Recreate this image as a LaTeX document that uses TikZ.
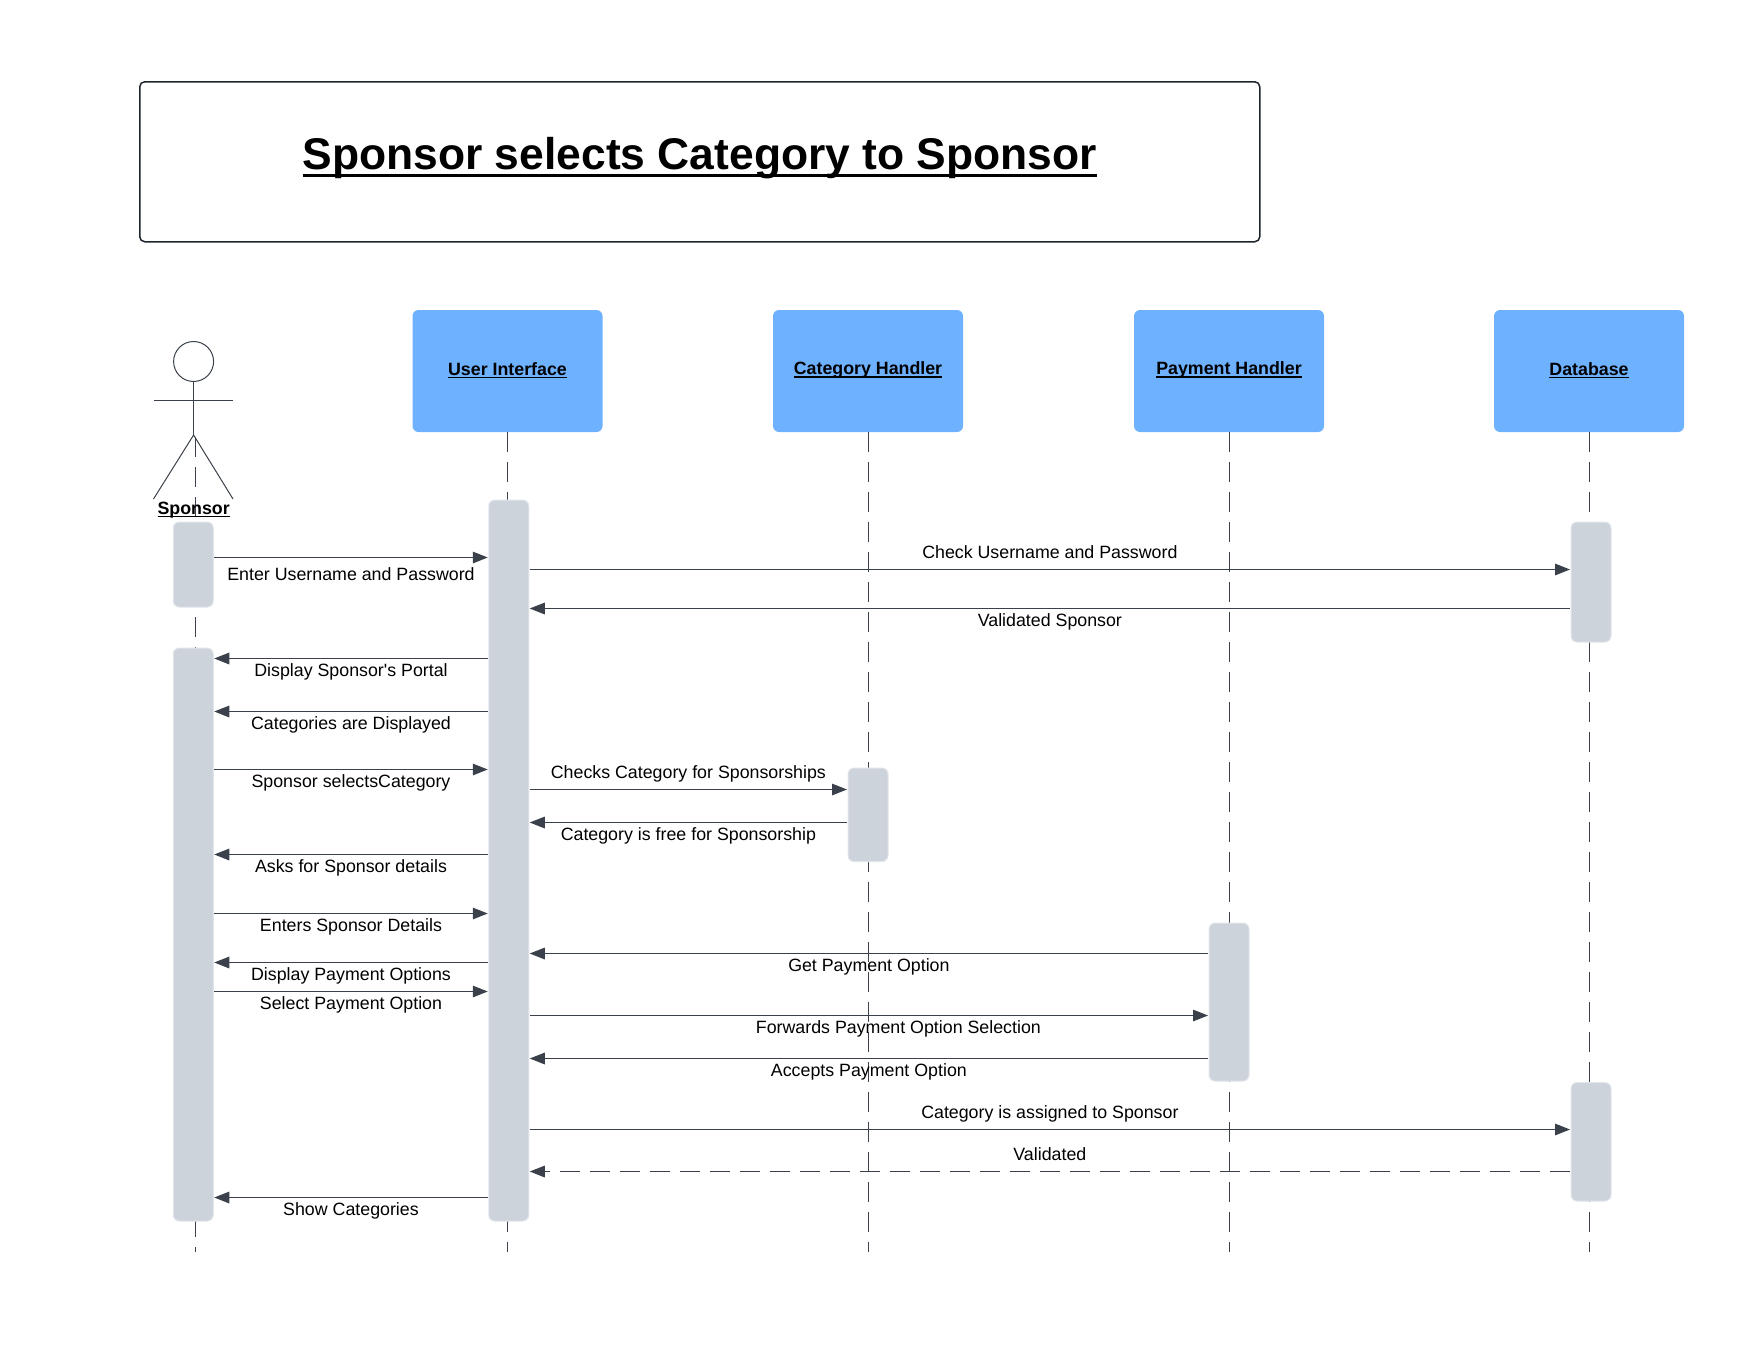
\documentclass[tikz,border=0pt]{standalone}
\usepackage{fontspec}
\setmainfont{Liberation Sans}
\usetikzlibrary{arrows.meta}
\definecolor{headblue}{RGB}{ 109, 177, 255 }
\definecolor{bargray}{RGB}{ 205, 211, 219 }
\definecolor{baredge}{RGB}{ 226, 230, 235 }
\definecolor{inkgray}{RGB}{ 58, 65, 74 }
\definecolor{frameink}{RGB}{ 30, 36, 46 }
\newcommand{\ultext}[1]{\setbox0=\hbox{#1}\rlap{\vrule width\wd0 height -0.09em depth 0.17em}\box0}

\begin{document}
\begin{tikzpicture}[x=0.5pt,y=-0.5pt,font=\fontsize{8.9}{10}\selectfont]
\tikzstyle{head box}=[fill=headblue,rounded corners=3pt,minimum width=95pt,minimum height=61pt,inner sep=0]
\tikzstyle{head text}=[yshift=.4pt,font=\fontsize{8.9}{10}\selectfont\bfseries]
\tikzstyle{act bar}=[fill=bargray,draw=baredge,line width=.5pt,rounded corners=3pt,minimum width=20pt,inner sep=0,outer sep=.5pt]
\tikzstyle{life line}=[draw=inkgray,line width=.5pt,dash pattern=on 10pt off 5pt]
\tikzstyle{msg}=[draw=inkgray,line width=.55pt,-{Triangle[length=7.5pt,width=5.8pt]}]
\tikzstyle{msg dash}=[msg,dash pattern=on 10pt off 5pt]
\tikzstyle{under}=[midway,inner sep=0,text height=.72em,text depth=.2em,yshift=-6.5pt]
\tikzstyle{over}=[midway,inner sep=0,text height=.72em,text depth=.2em,yshift=8.2pt]
\tikzstyle{stick}=[draw=inkgray,line width=.5pt]

\useasboundingbox (0,0) rectangle (1750,1344);

% title
\node(title)[draw=frameink,line width=.75pt,rounded corners=2.5pt,minimum width=560pt,minimum height=80pt,inner sep=0,
    label={[yshift=1.8pt,font=\fontsize{22.2}{26}\selectfont\bfseries]center:\ultext{Sponsor selects Category to Sponsor}}] at (699.75,161.75) {};

% objects
\node(ui)[head box,label={[head text]center:\ultext{User Interface}}] at (507.5,371) {};
\node(cat)[head box,label={[head text]center:\ultext{Category Handler}}] at (868,371) {};
\node(pay)[head box,label={[head text]center:\ultext{Payment Handler}}] at (1229,371) {};
\node(db)[head box,label={[head text]center:\ultext{Database}}] at (1589,371) {};

% life lines
\coordinate (sEnd) at (195.5,1252);
\coordinate (sTop) at (195.5,437);
\draw[life line] (sTop) -- (sEnd);
\draw[life line] (ui.south) -- (ui.south |- sEnd);
\draw[life line] ([xshift=.3pt]cat.south) -- ([xshift=.3pt]cat.south |- sEnd);
\draw[life line] ([xshift=.3pt]pay.south) -- ([xshift=.3pt]pay.south |- sEnd);
\draw[life line] ([xshift=.3pt]db.south) -- ([xshift=.3pt]db.south |- sEnd);

% actor
\node(actHead)[circle,stick,minimum size=20pt,inner sep=0] at (193.6,361.5) {};
\coordinate (hip) at (193.6,435);
\coordinate (armL) at (153.5,400.5);
\coordinate (armR) at (233,400.5);
\coordinate (legL) at (153.5,499);
\coordinate (legR) at (233,499);
\draw[stick] (actHead.south) -- (hip);
\draw[stick] (armL) -- (armR);
\draw[stick] (legL) -- (hip) -- (legR);
\node(actName)[inner sep=0,font=\fontsize{8.9}{10}\selectfont\bfseries] at (193.6,510) {\ultext{Sponsor}};

% activation bars
\node(sA)[act bar,minimum height=42.5pt] at (193.25,564.5) {};
\node(sB)[act bar,minimum height=286.5pt] at (193.25,934.5) {};
\node(uiA)[act bar,minimum height=360.5pt] at (508.75,860.5) {};
\node(catA)[act bar,minimum height=46.75pt] at (868,814.75) {};
\node(payA)[act bar,minimum height=79pt] at (1229,1002) {};
\node(dbA)[act bar,minimum height=60pt] at (1591,582) {};
\node(dbB)[act bar,minimum height=59.25pt] at (1591,1141.75) {};

% messages
\draw[msg] (sA.east |- 0,557.5) -- node(m1)[under,yshift=-2.4pt]{Enter Username and Password} (uiA.west |- 0,557.5);
\draw[msg] (uiA.east |- 0,569.5) -- node(m2)[over]{Check Username and Password} (dbA.west |- 0,569.5);
\draw[msg] (dbA.west |- 0,608.5) -- node(m3)[under]{Validated Sponsor} (uiA.east |- 0,608.5);
\draw[msg] (uiA.west |- 0,658.5) -- node(m4)[under]{Display Sponsor\textquotesingle s Portal} (sB.east |- 0,658.5);
\draw[msg] (uiA.west |- 0,711.5) -- node(m5)[under]{Categories are Displayed} (sB.east |- 0,711.5);
\draw[msg] (sB.east |- 0,769.5) -- node(m6)[under]{Sponsor selectsCategory} (uiA.west |- 0,769.5);
\draw[msg] (uiA.east |- 0,789.5) -- node(m7)[over]{Checks Category for Sponsorships} (catA.west |- 0,789.5);
\draw[msg] (catA.west |- 0,822.5) -- node(m8)[under]{Category is free for Sponsorship} (uiA.east |- 0,822.5);
\draw[msg] (uiA.west |- 0,854.5) -- node(m9)[under]{Asks for Sponsor details} (sB.east |- 0,854.5);
\draw[msg] (sB.east |- 0,913.5) -- node(m10)[under]{Enters Sponsor Details} (uiA.west |- 0,913.5);
\draw[msg] (payA.west |- 0,953.5) -- node(m11)[under]{Get Payment Option} (uiA.east |- 0,953.5);
\draw[msg] (uiA.west |- 0,962.5) -- node(m12)[under]{Display Payment Options} (sB.east |- 0,962.5);
\draw[msg] (sB.east |- 0,991.5) -- node(m13)[under]{Select Payment Option} (uiA.west |- 0,991.5);
\draw[msg] (uiA.east |- 0,1015.5) -- node(m14)[under,pos=.5435]{Forwards Payment Option Selection} (payA.west |- 0,1015.5);
\draw[msg] (payA.west |- 0,1058.5) -- node(m15)[under]{Accepts Payment Option} (uiA.east |- 0,1058.5);
\draw[msg] (uiA.east |- 0,1129.5) -- node(m16)[over]{Category is assigned to Sponsor} (dbB.west |- 0,1129.5);
\draw[msg dash] (dbB.west |- 0,1171.5) -- node(m17)[over]{Validated} (uiA.east |- 0,1171.5);
\draw[msg] (uiA.west |- 0,1197.5) -- node(m18)[under]{Show Categories} (sB.east |- 0,1197.5);

\end{tikzpicture}
\end{document}
